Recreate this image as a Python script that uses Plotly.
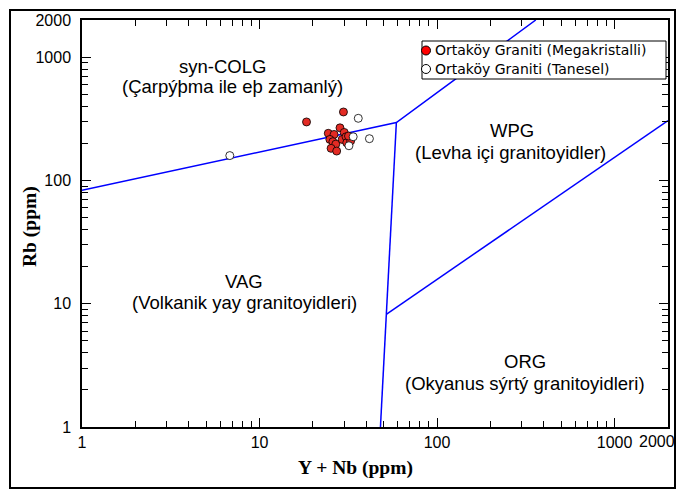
import plotly.graph_objects as go

# Data (Y+Nb, Rb) in ppm
mega_ynb = [29.7, 18.4, 28.4, 24.4, 26.3, 30.0, 24.9, 25.9, 26.9, 25.3, 27.2, 29.2, 30.7, 31.0, 32.6, 31.7]
mega_rb = [359, 298, 267, 241, 236, 245, 215, 206, 197, 182, 173, 215, 226, 202, 209, 229]
tan_ynb = [36.0, 33.7, 41.6, 31.9, 6.8]
tan_rb = [319, 226, 218, 191, 159]

# Discrimination boundaries (Pearce et al. 1984)
b1_x = [1, 59, 360]
b1_y = [83, 295, 2000]
b2_x = [59, 52, 48]
b2_y = [295, 8.25, 1]
b3_x = [52, 2000]
b3_y = [8.25, 305]

tickvals = [1, 10, 100, 1000, 2000]
x_ticktext = ["1", "10", "100", "1000", ""]
y_ticktext = ["1", "10", "100", "1000", "2000"]
minor_vals = [m * d for d in (1, 10, 100) for m in range(2, 10)]

series_names = ["Ortaköy Graniti (Megakristalli)", "Ortaköy Graniti (Tanesel)"]
series_colors = ["#e32b24", "white"]

fig = go.Figure()
for bx, by in ((b1_x, b1_y), (b2_x, b2_y), (b3_x, b3_y)):
    fig.add_trace(go.Scatter(x=bx, y=by, mode="lines", line=dict(color="#0000ff", width=1.5),
                             showlegend=False, hoverinfo="skip"))

for xs, ys, nm, col in ((mega_ynb, mega_rb, series_names[0], series_colors[0]),
                        (tan_ynb, tan_rb, series_names[1], series_colors[1])):
    fig.add_trace(go.Scatter(x=xs, y=ys, mode="markers", name=nm, showlegend=False,
                             marker=dict(size=8, color=col, line=dict(color="black", width=0.8))))

L, R, T, B = 82, 668, 20, 427
W, H = R - L, B - T


def px(xp):
    return (xp - L) / W


def py(yp):
    return (B - yp) / H


axis_common = dict(type="log", showgrid=False, zeroline=False, showline=True, linecolor="black",
                   linewidth=1.5, mirror="allticks", ticks="inside", ticklen=9, tickcolor="black",
                   tickwidth=1, tickvals=tickvals, ticklabeloverflow="allow", automargin=False,
                   tickfont=dict(family="Liberation Sans, Arial", size=16, color="black"),
                   minor=dict(tickvals=minor_vals, ticks="inside", ticklen=6, tickcolor="black", tickwidth=1))

fig.update_layout(
    width=678, height=490,
    margin=dict(l=L, r=678 - R, t=T, b=490 - B, autoexpand=False),
    paper_bgcolor="white", plot_bgcolor="white",
    xaxis=dict(range=[0, 3.30105], ticktext=x_ticktext, **axis_common),
    yaxis=dict(range=[0, 3.30105], ticktext=y_ticktext, ticklabelstandoff=6, **axis_common),
    showlegend=False,
)

# last x tick label (at the right edge, as in the reference)
fig.add_annotation(text="2000", xref="paper", yref="paper", x=px(677), y=py(441), showarrow=False,
                   font=dict(family="Liberation Sans, Arial", size=16, color="black"),
                   xanchor="right", yanchor="middle")

# Legend (drawn manually)
fig.add_shape(type="rect", xref="paper", yref="paper", x0=px(422), x1=px(666), y0=py(79), y1=py(41),
              line=dict(color="black", width=1), fillcolor="white", layer="above")
for i, (nm, col) in enumerate(zip(series_names, series_colors)):
    yc = 50.5 + 18.5 * i
    fig.add_shape(type="circle", xref="paper", yref="paper", x0=px(421.5), x1=px(430.5),
                  y0=py(yc + 4.5), y1=py(yc - 4.5), fillcolor="#ff0000" if i == 0 else "white",
                  line=dict(color="black", width=1), layer="above")
    fig.add_annotation(text=nm, xref="paper", yref="paper", x=px(434), y=py(yc), showarrow=False,
                       font=dict(family="DejaVu Sans", size=14, color="black"), borderpad=0,
                       xanchor="left", yanchor="middle")

font_z = dict(family="Liberation Sans, Arial", size=18.5, color="black")
labels = [
    ("syn-COLG", 222, 66), ("(Çarpýþma ile eþ zamanlý)", 232, 87),
    ("WPG", 512, 130), ("(Levha içi granitoyidler)", 510, 152),
    ("VAG", 244, 281), ("(Volkanik yay granitoyidleri)", 244, 303),
    ("ORG", 525, 361), ("(Okyanus sýrtý granitoyidleri)", 525, 383),
]
for txt, xx, yy in labels:
    fig.add_annotation(text=txt, xref="paper", yref="paper", x=px(xx), y=py(yy), showarrow=False,
                       font=font_z, align="center", xanchor="center", yanchor="middle")

ttl = dict(family="Liberation Serif, Times New Roman", size=19.5, color="black")
fig.add_annotation(text="<b>Y + Nb (ppm)</b>", xref="paper", yref="paper", x=px(355), y=py(468),
                   showarrow=False, font=ttl, xanchor="center", yanchor="middle")
fig.add_annotation(text="<b>Rb (ppm)</b>", xref="paper", yref="paper", x=px(30), y=py(227),
                   showarrow=False, font=ttl, textangle=-90, xanchor="center", yanchor="middle")

fig.add_shape(type="rect", xref="paper", yref="paper", x0=px(10), x1=px(675), y0=py(488), y1=py(10),
              line=dict(color="black", width=2), layer="below")

fig.write_html("out.html")
